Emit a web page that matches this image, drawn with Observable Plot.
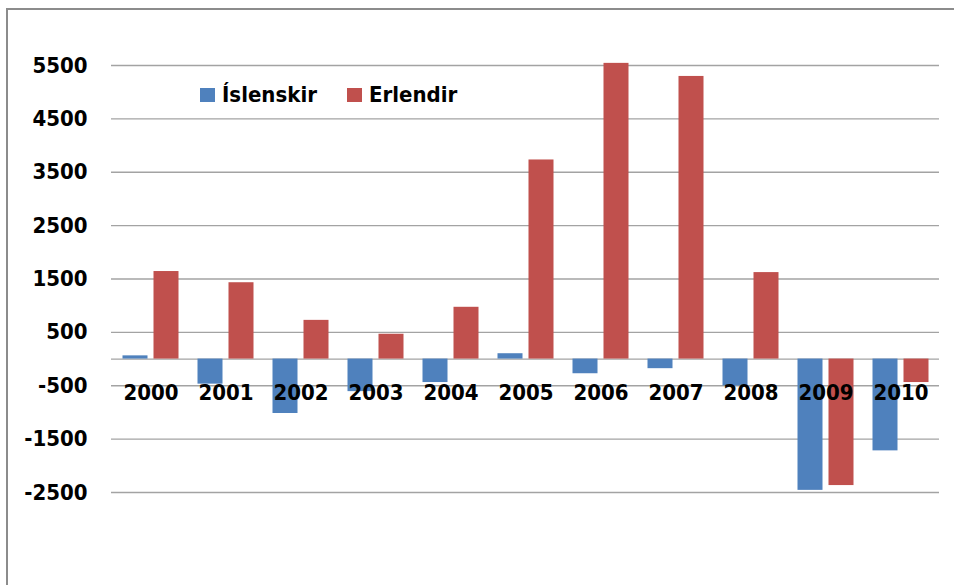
<!DOCTYPE html>
<html>
<head>
<meta charset="utf-8">
<script src="https://cdn.jsdelivr.net/npm/d3@7"></script>
<script src="https://cdn.jsdelivr.net/npm/@observablehq/plot@0.6"></script>
<style>
  html, body { margin: 0; padding: 0; background: #fff; }
  #wrap { position: relative; width: 954px; height: 585px; overflow: hidden; }
  #frame { position: absolute; left: 6px; top: 8px; width: 960px; height: 600px; border-left: 2px solid #8c8c8c; border-top: 2px solid #8c8c8c; box-sizing: border-box; pointer-events: none; }
  #legend { position: absolute; left: 200px; top: 82px; font-family: "DejaVu Sans Condensed", "DejaVu Sans", sans-serif; font-weight: bold; font-size: 22px; color: #000; display: flex; align-items: center; white-space: nowrap; }
  #legend .sw { display: inline-block; width: 15px; height: 14px; margin-right: 7px; }
  #legend .item { display: flex; align-items: center; }
</style>
</head>
<body>
<div id="wrap">
  <div id="chart"></div>
  <div id="frame"></div>
  <div id="legend"></div>
</div>
<script>
const years = ["2000","2001","2002","2003","2004","2005","2006","2007","2008","2009","2010"];
const seriesNames = ["Íslenskir", "Erlendir"];
const seriesColors = ["#4F81BD", "#C0504D"];
const islenskir = [60, -470, -1020, -610, -440, 100, -275, -180, -505, -2460, -1720];
const erlendir = [1640, 1430, 725, 465, 970, 3730, 5540, 5295, 1620, -2370, -440];
const yTicks = [-2500, -1500, -500, 500, 1500, 2500, 3500, 4500, 5500];

const dataIs = years.map((y, i) => ({year: y, value: islenskir[i]}));
const dataEr = years.map((y, i) => ({year: y, value: erlendir[i]}));

const font = '"DejaVu Sans Condensed", "DejaVu Sans", sans-serif';

const chart = Plot.plot({
  width: 954,
  height: 585,
  marginLeft: 111,
  marginRight: 15,
  marginTop: 65,
  marginBottom: 93,
  style: { fontFamily: font, fontSize: "22px", fontWeight: "bold", color: "#000", background: "transparent" },
  x: { type: "band", domain: years, paddingInner: 0.668, paddingOuter: 0.334, axis: null },
  y: { domain: [-2500, 5500], ticks: yTicks, tickFormat: d => String(d), label: null },
  marks: [
    Plot.gridY(yTicks, { stroke: "#a3a3a3", strokeOpacity: 1, strokeWidth: 1.3 }),
    Plot.ruleY([0], { stroke: "#a3a3a3", strokeWidth: 1.3 }),
    Plot.axisY(yTicks, { tickSize: 0, tickPadding: 24, tickFormat: d => String(d), label: null, fontWeight: "bold" }),
    Plot.barY(dataIs, { x: "year", y: "value", fill: seriesColors[0], dx: -15.5 }),
    Plot.barY(dataEr, { x: "year", y: "value", fill: seriesColors[1], dx: 15.5 }),
    Plot.text(years, { x: d => d, y: () => 0, dy: 34, text: d => d, fill: "#000", fontWeight: "bold", fontSize: 22 })
  ]
});
document.getElementById("chart").appendChild(chart);

const legend = document.getElementById("legend");
seriesNames.forEach((name, i) => {
  const item = document.createElement("span");
  item.className = "item";
  if (i > 0) item.style.marginLeft = "30px";
  const sw = document.createElement("span");
  sw.className = "sw";
  sw.style.background = seriesColors[i];
  item.appendChild(sw);
  item.appendChild(document.createTextNode(name));
  legend.appendChild(item);
});
</script>
</body>
</html>
